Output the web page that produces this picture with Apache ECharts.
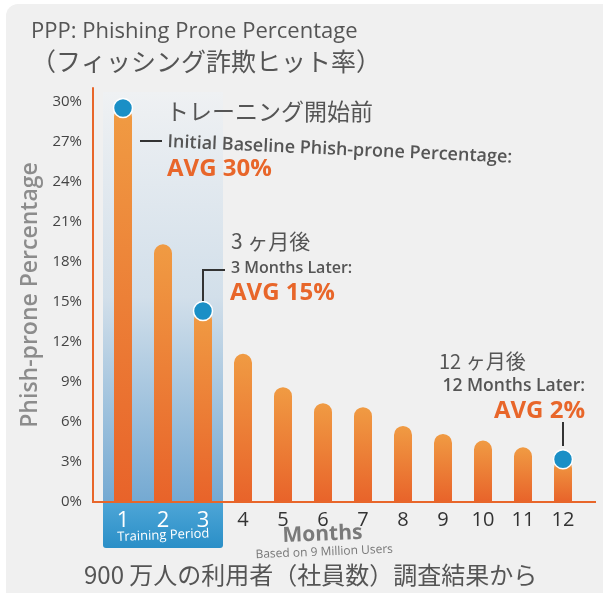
<!DOCTYPE html>
<html>
<head>
<meta charset="utf-8">
<script src="https://cdn.jsdelivr.net/npm/echarts@6/dist/echarts.min.js"></script>
<style>
	html, body { margin: 0; padding: 0; background: #fff; }
	#main { width: 603px; height: 593px; }
</style>
</head>
<body>
<div id="main"></div>
<script>
var months = ['1', '2', '3', '4', '5', '6', '7', '8', '9', '10', '11', '12'];
var phishProne = [29.5, 19.3, 14.3, 11.1, 8.6, 7.4, 7.1, 5.7, 5.1, 4.6, 4.1, 3.2];
var trainingMonths = ['1', '2', '3'];
var markedMonths = ['1', '3', '12'];
var yTicks = [0, 3, 6, 9, 12, 15, 18, 21, 24, 27, 30];

var ORANGE = '#e8662a';
var TEXT = '#555';
var LATIN = "'Open Sans', 'Noto Sans CJK JP', sans-serif";
var CJK = "'Noto Sans CJK JP', 'Open Sans', sans-serif";

var myChart = echarts.init(document.getElementById('main'));

/* 柱 */
var barColor = new echarts.graphic.LinearGradient(0, 0, 0, 1, [
	{offset: 0, color: '#f09b43'},
	{offset: 1, color: '#e8632a'}
]);

var xData = months.map(function (m) {
	if (trainingMonths.indexOf(m) >= 0) {
		return {value: m, textStyle: {color: '#fff', fontSize: 22}};
	}
	return m;
});

var dots = markedMonths.map(function (m) {
	var i = months.indexOf(m);
	return [m, phishProne[i]];
});

var option = {
	backgroundColor: 'transparent',
	animation: false,
	title: {
		text: 'PPP: Phishing Prone Percentage',
		subtext: '（フィッシング詐欺ヒット率）',
		left: 26,
		top: 16,
		itemGap: 6,
		textStyle: {fontFamily: LATIN, fontSize: 22, fontWeight: 'normal', color: TEXT},
		subtextStyle: {fontFamily: CJK, fontSize: 25, color: TEXT}
	},
	grid: {left: 103, right: 20, top: 88, bottom: 91},
	xAxis: {
		type: 'category',
		data: xData,
		axisLine: {show: false},
		axisTick: {show: false},
		axisLabel: {fontFamily: LATIN, fontSize: 20, color: '#333', margin: 8}
	},
	yAxis: {
		type: 'value',
		min: yTicks[0],
		max: 31,
		interval: 3,
		offset: 10,
		name: 'Phish-prone Percentage',
		nameLocation: 'middle',
		nameGap: 50,
		nameTextStyle: {fontFamily: LATIN, fontSize: 23, fontWeight: 600, color: '#8c8c8c'},
		axisLine: {show: true, lineStyle: {color: ORANGE, width: 2}},
		axisTick: {show: false},
		splitLine: {show: false},
		axisLabel: {
			fontFamily: LATIN, fontSize: 15, color: '#444', margin: 11,
			showMaxLabel: false,
			formatter: function (v) { return yTicks.indexOf(v) >= 0 ? v + '%' : ''; }
		}
	},
	series: [{
		type: 'bar',
		data: phishProne,
		barWidth: 18,
		itemStyle: {color: barColor, borderRadius: [9, 9, 0, 0]},
		z: 3
	}, {
		type: 'scatter',
		data: dots,
		symbolSize: 19,
		itemStyle: {color: '#1a8fc6', borderColor: '#fff', borderWidth: 1.5, opacity: 1},
		z: 5
	}]
};
myChart.setOption(option);

/* 装飾 */
var y0 = myChart.convertToPixel({yAxisIndex: 0}, 0);
var xFirst = myChart.convertToPixel({xAxisIndex: 0}, trainingMonths[0]);
var xLast = myChart.convertToPixel({xAxisIndex: 0}, trainingMonths[trainingMonths.length - 1]);
var band = myChart.convertToPixel({xAxisIndex: 0}, months[1]) - myChart.convertToPixel({xAxisIndex: 0}, months[0]);
var tx0 = xFirst - band / 2, tx1 = xLast + band / 2;

function label(text, x, y, size, opts) {
	opts = opts || {};
	return {
		type: 'text', x: x, y: y, rotation: opts.rot || 0, z: 20,
		style: {
			text: text, x: 0, y: 0,
			fontFamily: opts.family || LATIN,
			fontSize: size,
			fontWeight: opts.weight || 'normal',
			fill: opts.color || TEXT,
			textAlign: opts.align || 'left',
			textVerticalAlign: 'top'
		}
	};
}

myChart.setOption({
	graphic: [
		{type: 'rect', z: -20, shape: {x: 6, y: 4, width: 700, height: 700, r: 12}, style: {fill: '#f0f0f0'}},
		{type: 'rect', z: -10, shape: {x: tx0, y: 92, width: tx1 - tx0, height: y0 - 92},
			style: {fill: new echarts.graphic.LinearGradient(0, 0, 0, 1, [
				{offset: 0, color: '#eff1f3'},
				{offset: 0.5, color: '#d2dfea'},
				{offset: 1, color: '#74a9d2'}
			])}},
		{type: 'rect', z: -10, shape: {x: tx0, y: y0, width: tx1 - tx0, height: 548 - y0, r: [0, 0, 3, 3]},
			style: {fill: new echarts.graphic.LinearGradient(0, 0, 0, 1, [
				{offset: 0, color: '#4ea6d7'},
				{offset: 1, color: '#2a8fc7'}
			])}},
		{type: 'line', z: 4, shape: {x1: 92, y1: y0, x2: 596, y2: y0}, style: {stroke: ORANGE, lineWidth: 2}},
		label('Training Period', (tx0 + tx1) / 2, 529, 13, {color: '#fff', align: 'center', rot: 0.04}),

		label('トレーニング開始前', 166, 100, 23, {family: CJK}),
		{type: 'line', z: 20, shape: {x1: 140, y1: 141, x2: 162, y2: 141}, style: {stroke: '#333', lineWidth: 2}},
		label('Initial Baseline Phish-prone Percentage:', 168, 133, 18, {weight: 600, rot: -0.045}),
		label('AVG 30%', 167, 157, 24, {weight: 'bold', color: ORANGE}),

		label('3 ヶ月後', 231, 231, 21, {family: CJK}),
		{type: 'polyline', z: 20, shape: {points: [[203, 301], [203, 270], [225, 270]]}, style: {stroke: '#333', lineWidth: 2, fill: null}},
		label('3 Months Later:', 231, 260, 16, {weight: 600}),
		label('AVG 15%', 230, 281, 24, {weight: 'bold', color: ORANGE}),

		label('12 ヶ月後', 439, 351, 20, {family: CJK}),
		label('12 Months Later:', 585, 377, 17.5, {weight: 600, align: 'right'}),
		label('AVG 2%', 585, 399, 24, {weight: 'bold', color: ORANGE, align: 'right'}),
		{type: 'line', z: 20, shape: {x1: 563, y1: 422, x2: 563, y2: 446}, style: {stroke: '#333', lineWidth: 2}},

		label('Months', 322, 524, 21, {weight: 'bold', color: '#7a7a7a', align: 'center', rot: 0.04}),
		label('Based on 9 Million Users', 324, 546, 12, {color: '#777', align: 'center', rot: 0.04}),
		label('900 万人の利用者（社員数）調査結果から', 84, 563, 24, {family: CJK})
	]
});
</script>
</body>
</html>
